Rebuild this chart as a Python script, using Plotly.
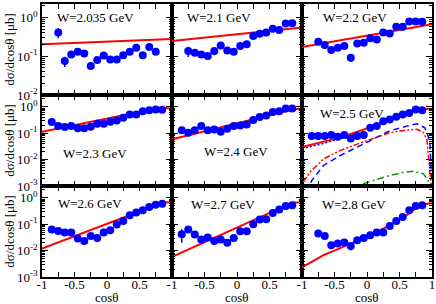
import plotly.graph_objects as go
from plotly.subplots import make_subplots

# ---------------- data ----------------
energies = ["2.035", "2.1", "2.2", "2.3", "2.4", "2.5", "2.6", "2.7", "2.8"]

cos_a = [-0.75, -0.65, -0.55, -0.45, -0.35, -0.25, -0.15, -0.05, 0.05, 0.15,
         0.25, 0.35, 0.45, 0.55, 0.65, 0.75]
cos_b = cos_a + [0.85]
cos_c = [-0.85] + cos_b

val_2035 = [0.41, 0.075, 0.111, 0.13, 0.118, 0.056, 0.080, 0.105, 0.083, 0.083,
            0.107, 0.131, 0.166, 0.107, 0.174, 0.131]
err_2035 = [0.12, 0.022, 0.012, 0.02, 0.012, 0.01, 0.008, 0.01, 0.008, 0.008,
            0.01, 0.012, 0.015, 0.01, 0.016, 0.012]
val_21 = [0.136, 0.123, 0.111, 0.101, 0.136, 0.19, 0.141, 0.131, 0.184, 0.203,
          0.335, 0.384, 0.41, 0.517, 0.48, 0.70, 0.71]
err_21 = [0.04, 0.02, 0.012, 0.012, 0.03, 0.03, 0.02, 0.012, 0.015, 0.015,
          0.02, 0.02, 0.02, 0.03, 0.03, 0.04, 0.04]
val_22 = [0.238, 0.195, 0.145, 0.166, 0.184, 0.091, 0.215, 0.224, 0.29, 0.273,
          0.41, 0.39, 0.575, 0.58, 0.79, 0.79, 0.78]
err_22 = [0.02, 0.02, 0.015, 0.02, 0.03, 0.02, 0.015, 0.015, 0.02, 0.02,
          0.03, 0.03, 0.03, 0.03, 0.04, 0.04, 0.04]
val_23 = [0.265, 0.187, 0.172, 0.187, 0.153, 0.153, 0.177, 0.229, 0.229, 0.272,
          0.304, 0.384, 0.51, 0.51, 0.68, 0.75, 0.79, 0.77]
err_23 = [0.02, 0.015, 0.012, 0.012, 0.01, 0.01, 0.012, 0.015, 0.015, 0.02,
          0.02, 0.02, 0.03, 0.03, 0.03, 0.04, 0.04, 0.04]
val_24 = [0.129, 0.105, 0.129, 0.187, 0.129, 0.14, 0.115, 0.149, 0.187, 0.198,
          0.215, 0.315, 0.41, 0.47, 0.645, 0.68, 0.86, 0.86]
err_24 = [0.01, 0.01, 0.01, 0.02, 0.025, 0.01, 0.01, 0.01, 0.012, 0.012,
          0.015, 0.02, 0.02, 0.02, 0.03, 0.03, 0.04, 0.04]
val_25 = [0.079, 0.079, 0.079, 0.086, 0.073, 0.086, 0.063, 0.079, 0.086, 0.162,
          0.187, 0.288, 0.33, 0.42, 0.51, 0.59, 0.79, 0.75]
err_25 = [0.006, 0.006, 0.006, 0.007, 0.006, 0.007, 0.006, 0.006, 0.007, 0.012,
          0.012, 0.02, 0.02, 0.02, 0.03, 0.03, 0.04, 0.04]
val_26 = [0.063, 0.056, 0.049, 0.049, 0.029, 0.023, 0.036, 0.030, 0.049, 0.059,
          0.098, 0.133, 0.22, 0.277, 0.337, 0.45, 0.55, 0.60]
err_26 = [0.005, 0.004, 0.004, 0.004, 0.003, 0.003, 0.003, 0.003, 0.004, 0.005,
          0.007, 0.01, 0.015, 0.02, 0.02, 0.03, 0.03, 0.03]
val_27 = [0.042, 0.063, 0.041, 0.0265, 0.0316, 0.023, 0.0265, 0.0197, 0.030, 0.054,
          0.054, 0.10, 0.15, 0.155, 0.267, 0.36, 0.49, 0.52]
err_27 = [0.022, 0.006, 0.004, 0.003, 0.003, 0.003, 0.003, 0.002, 0.003, 0.004,
          0.004, 0.008, 0.01, 0.01, 0.02, 0.02, 0.03, 0.03]
val_28 = [0.045, 0.036, 0.016, 0.0187, 0.0204, 0.015, 0.0249, 0.030, 0.0385, 0.049,
          0.049, 0.086, 0.133, 0.19, 0.337, 0.49, 0.52]
err_28 = [0.008, 0.005, 0.002, 0.002, 0.003, 0.005, 0.003, 0.003, 0.003, 0.004,
          0.004, 0.007, 0.01, 0.012, 0.02, 0.03, 0.03]

# model curves (solid red)
mod_cos_2035 = [-1.0, 0.0, 1.0]
mod_val_2035 = [0.204, 0.24, 0.28]
mod_cos_21 = [-1.0, 0.0, 1.0]
mod_val_21 = [0.248, 0.37, 0.55]
mod_cos_22 = [-1.0, 0.0, 1.0]
mod_val_22 = [0.174, 0.343, 0.676]
mod_cos_23 = [-1.0, -0.5, 0.0, 0.5, 0.8, 0.9, 1.0]
mod_val_23 = [0.115, 0.203, 0.36, 0.64, 0.90, 0.90, 0.85]
mod_cos_24 = [-1.0, 0.0, 0.5, 0.85, 1.0]
mod_val_24 = [0.059, 0.237, 0.474, 0.78, 0.89]
mod_cos_25 = [-1.0, -0.67, -0.42, -0.16, 0.1, 0.35, 0.61, 0.82, 1.0]
mod_val_25 = [0.030, 0.047, 0.068, 0.112, 0.186, 0.33, 0.59, 0.85, 0.83]
mod_cos_26 = [-1.0, 0.0, 0.5, 0.85, 1.0]
mod_val_26 = [0.012, 0.105, 0.305, 0.65, 0.69]
mod_cos_27 = [-1.0, 0.0, 0.5, 0.85, 1.0]
mod_val_27 = [0.0058, 0.075, 0.27, 0.66, 0.68]
mod_cos_28 = [-1.0, -0.67, -0.42, -0.16, 0.1, 0.35, 0.61, 0.82, 0.97, 1.0]
mod_val_28 = [0.0023, 0.0068, 0.0121, 0.0229, 0.0447, 0.091, 0.219, 0.525, 0.63, 0.60]

# W=2.5 contributions
blue_cos = [-0.93, -0.85, -0.67, -0.42, -0.16, 0.1, 0.35, 0.61, 0.77, 0.89, 0.94, 0.97, 1.0]
blue_val = [0.0006, 0.0016, 0.006, 0.014, 0.029, 0.059, 0.123, 0.186, 0.229, 0.162,
            0.079, 0.035, 0.0007]
rdd_cos = [-0.98, -0.88, -0.67, -0.42, -0.16, 0.1, 0.35, 0.61, 0.77, 0.87, 0.92, 0.97, 1.0]
rdd_val = [0.0014, 0.0033, 0.0105, 0.0219, 0.038, 0.063, 0.105, 0.132, 0.141, 0.105,
           0.059, 0.003, 0.0005]
grn_cos = [-0.25, -0.13, 0.1, 0.35, 0.56, 0.71, 0.87, 0.94, 1.0]
grn_val = [0.0006, 0.00107, 0.00162, 0.00251, 0.00331, 0.00363, 0.00288, 0.00162, 0.0004]
bdot_cos = [-1.0, -0.67, -0.42, -0.2]
bdot_val = [0.026, 0.041, 0.062, 0.095]

data_cos = [cos_a, cos_b, cos_b, cos_c, cos_c, cos_c, cos_c, cos_c, cos_b]
data_val = [val_2035, val_21, val_22, val_23, val_24, val_25, val_26, val_27, val_28]
data_err = [err_2035, err_21, err_22, err_23, err_24, err_25, err_26, err_27, err_28]
mod_cos = [mod_cos_2035, mod_cos_21, mod_cos_22, mod_cos_23, mod_cos_24, mod_cos_25,
           mod_cos_26, mod_cos_27, mod_cos_28]
mod_val = [mod_val_2035, mod_val_21, mod_val_22, mod_val_23, mod_val_24, mod_val_25,
           mod_val_26, mod_val_27, mod_val_28]

x_major_inner = [-1, -0.5, 0, 0.5]
x_text_inner = ["-1", "-0.5", "0", "0.5"]
x_major_last = [-1, -0.5, 0, 0.5, 1]
x_text_last = ["-1", "-0.5", "0", "0.5", "1"]
x_minor = [-0.75, -0.25, 0.25, 0.75, 1]
y_ticks = [1, 0.1, 0.01, 0.001]
y_text = ["10<sup>0</sup>", "10<sup>-1</sup>", "10<sup>-2</sup>", "10<sup>-3</sup>"]

# ---------------- figure ----------------
FONT = "Liberation Serif, Times New Roman, serif"
fig = make_subplots(rows=3, cols=3, horizontal_spacing=0, vertical_spacing=0)

minor_vals = [m * 10.0 ** k for k in range(-4, 1) for m in range(2, 10)]

for i in range(9):
    r, c = i // 3 + 1, i % 3 + 1
    if i == 5:
        fig.add_trace(go.Scatter(x=bdot_cos, y=bdot_val, mode="lines",
                                 line=dict(color="#0000ff", width=1.5, dash="2px,2px"),
                                 showlegend=False), row=r, col=c)
    fig.add_trace(go.Scatter(x=mod_cos[i], y=mod_val[i], mode="lines",
                             line=dict(color="#ff0000", width=2), showlegend=False),
                  row=r, col=c)
    if i == 5:
        fig.add_trace(go.Scatter(x=blue_cos, y=blue_val, mode="lines",
                                 line=dict(color="#0000ff", width=1.5, dash="6px,4px"),
                                 showlegend=False), row=r, col=c)
        fig.add_trace(go.Scatter(x=rdd_cos, y=rdd_val, mode="lines",
                                 line=dict(color="#ff0000", width=1.5,
                                           dash="6px,2px,2px,2px,2px,2px"),
                                 showlegend=False), row=r, col=c)
        fig.add_trace(go.Scatter(x=grn_cos, y=grn_val, mode="lines",
                                 line=dict(color="#00a000", width=1.5,
                                           dash="7px,3px,2px,3px"),
                                 showlegend=False), row=r, col=c)
    fig.add_trace(go.Scatter(x=data_cos[i], y=data_val[i], mode="markers",
                             marker=dict(color="#0000ff", size=8),
                             error_y=dict(type="data", array=data_err[i], color="#0000ff",
                                          thickness=1.5, width=0),
                             showlegend=False), row=r, col=c)

    fig.update_xaxes(range=[-1, 1], tickmode="array",
                     tickvals=(x_major_last if c == 3 else x_major_inner),
                     ticktext=(x_text_last if c == 3 else x_text_inner),
                     showticklabels=(r == 3), ticks="inside", ticklen=5, tickwidth=1,
                     tickcolor="black", showline=True, linecolor="black", linewidth=1.5,
                     mirror="allticks", showgrid=False, zeroline=False,
                     ticklabelstandoff=-5,
                     minor=dict(tickmode="array", tickvals=x_minor, ticks="inside",
                                ticklen=5, tickcolor="black", showgrid=False),
                     tickfont=dict(family=FONT, size=13, color="black"),
                     row=r, col=c)
    yr = [-2, 0.35] if r == 1 else [-3, 0.45]
    fig.update_yaxes(type="log", range=yr, tickmode="array",
                     tickvals=(y_ticks[:3] if r == 1 else y_ticks), ticktext=y_text,
                     showticklabels=(c == 1), ticks="inside", ticklen=6, tickwidth=1,
                     tickcolor="black", showline=True, linecolor="black", linewidth=1.5,
                     mirror="allticks", showgrid=False, zeroline=False,
                     minor=dict(tickmode="array", tickvals=minor_vals, ticks="inside",
                                ticklen=3, tickcolor="black", showgrid=False),
                     tickfont=dict(family=FONT, size=13, color="black"),
                     row=r, col=c)

# panel labels
label_pos = [(0.415, 0.855), (0.36, 0.855), (0.41, 0.855),
             (0.41, 0.36), (0.49, 0.38), (0.385, 0.80),
             (0.37, 0.81), (0.39, 0.80), (0.40, 0.80)]
for i in range(9):
    ax = "" if i == 0 else str(i + 1)
    fig.add_annotation(x=label_pos[i][0], y=label_pos[i][1],
                       xref=f"x{ax} domain", yref=f"y{ax} domain",
                       xanchor="center", yanchor="middle",
                       text=f"W={energies[i]} GeV", showarrow=False,
                       font=dict(family=FONT, size=13, color="black"))

# axis titles
for r in range(3):
    fig.add_annotation(x=-0.084, y=0.5, xref="paper",
                       yref=f"y{'' if r == 0 else r * 3 + 1} domain",
                       xanchor="center", yanchor="middle",
                       text="dσ/dcosθ [μb]", textangle=-90, showarrow=False,
                       font=dict(family=FONT, size=13, color="black"))
for c in range(3):
    ax = str(6 + c + 1)
    fig.add_annotation(x=0.5, y=-0.074, xref=f"x{ax} domain", yref="paper",
                       text="cosθ", showarrow=False, xanchor="center", yanchor="middle",
                       font=dict(family=FONT, size=13, color="black"))

fig.update_layout(width=436, height=304, margin=dict(l=42, r=3, t=2, b=27),
                  paper_bgcolor="white", plot_bgcolor="white",
                  font=dict(family=FONT, size=13, color="black"))

fig.write_html("out.html", config={"displayModeBar": False},
               post_script="document.body.style.margin='0';document.body.style.overflow='hidden';")
